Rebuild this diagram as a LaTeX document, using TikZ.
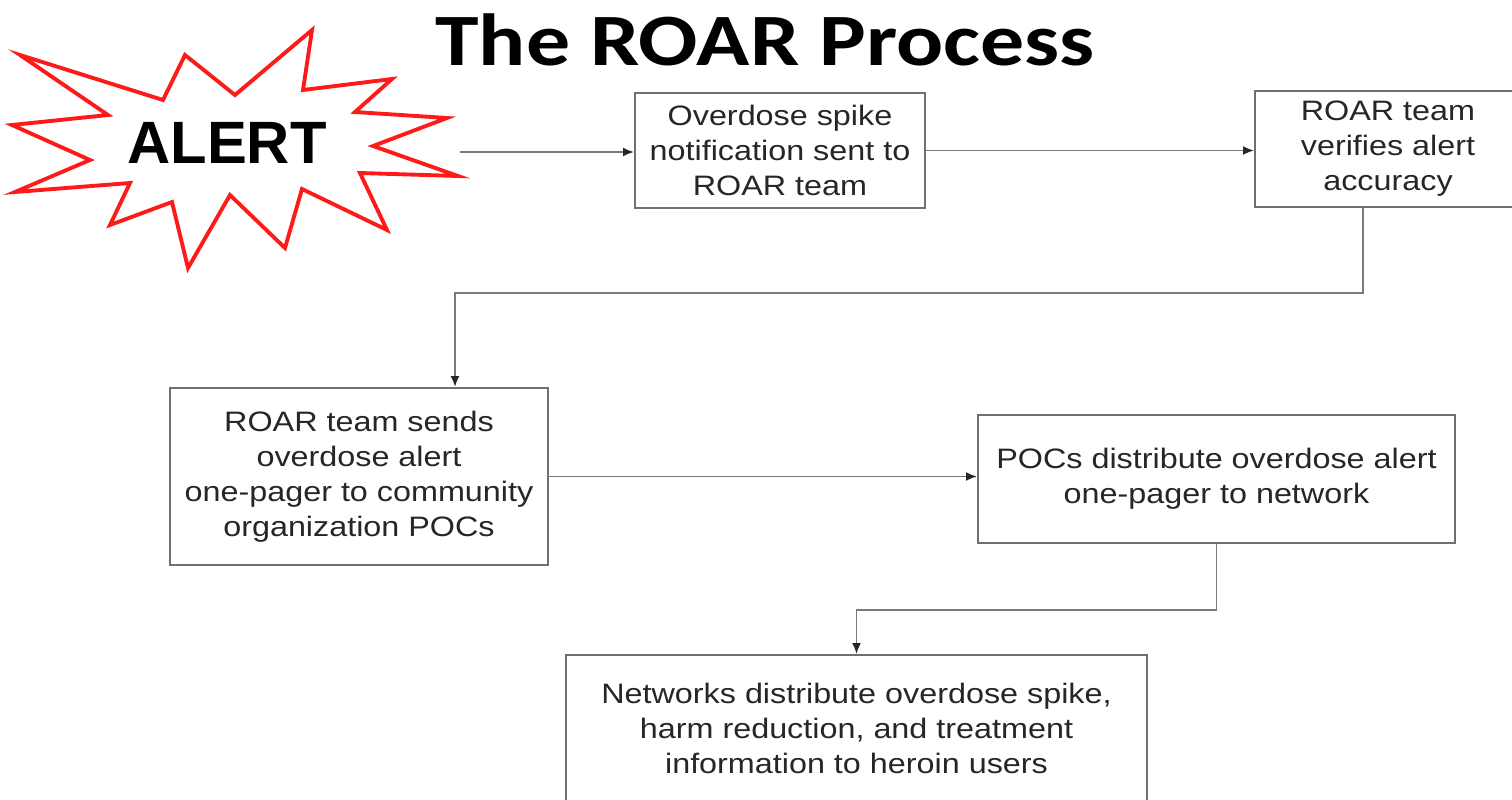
\documentclass[tikz,border=0pt]{standalone}
\usepackage{fontspec}
\setmainfont{Liberation Sans}
\newfontfamily\boxfont{Liberation Sans}[FakeStretch=1.15]
\newfontfamily\titlefont{Carlito}[FakeStretch=1.19]
\usepackage{xcolor}
\usetikzlibrary{positioning,calc,arrows.meta}
\definecolor{boxgray}{HTML}{707070}
\definecolor{linegray}{HTML}{7A7A7A}
\definecolor{burstred}{HTML}{FF1A1A}

\begin{document}
\begin{tikzpicture}[
  x=0.2mm, y=-0.2mm,
  box/.style={draw=boxgray, line width=1.1pt, align=center, inner sep=2pt, font=\boxfont\fontsize{16}{19.9}\selectfont, text=black!85},
  flow/.style={-{Latex[length=2.2mm,width=1.8mm,color=black!85]}, draw=linegray, line width=1.1pt}
]
\clip (0,0) rectangle (1512,799);

% title and alert burst
\node[anchor=base, font=\titlefont\bfseries\fontsize{42}{46}\selectfont] (title) at (765,65) {The ROAR Process};
\draw[burstred, line width=2.2pt] (20,55) -- (163,100) -- (185,55) -- (235,95) -- (312,30) -- (303,90)
  -- (392,79) -- (355,112) -- (447,118) -- (373,146) -- (458,176) -- (360,173) -- (387,230)
  -- (302,189) -- (285,248) -- (230,195) -- (188,268) -- (172,202) -- (110,225) -- (130,183)
  -- (15,192) -- (90,160) -- (12,125) -- (108,115) -- cycle;
\node[anchor=base, font=\bfseries\fontsize{34}{40}\selectfont] (alert) at (227,163) {ALERT};
\coordinate (burst) at (460,152);

% process boxes
\node[box, minimum width=58mm, minimum height=23mm] (notify) at (780,150.5) {Overdose spike\\notification sent to\\ROAR team};
\node[box, minimum width=53.2mm, minimum height=23.2mm] (verify) at (1388,149) {ROAR team\\verifies alert\\accuracy};
\node[box, minimum width=75.6mm, minimum height=35.4mm] (sends) at (359,476.5) {ROAR team sends\\overdose alert\\one-pager to community\\organization POCs};
\node[box, minimum width=95.4mm, minimum height=25.6mm] (pocs) at (1216.5,479) {POCs distribute overdose alert\\one-pager to network};
\node[box, minimum width=116.2mm, minimum height=29.2mm] (networks) at (856.5,728) {Networks distribute overdose spike,\\harm reduction, and treatment\\information to heroin users};

\coordinate (turn1) at (0,293);
\coordinate (turn2) at (0,610);

\draw[flow] (burst) -- (burst -| notify.west);
\draw[flow] (notify.east) -- (notify.east -| verify.west);
\draw[flow] ([xshift=-5mm]verify.south) |- ([xshift=19.2mm]sends.north |- turn1) -- ([xshift=19.2mm]sends.north);
\draw[flow] (sends.east) -- (sends.east -| pocs.west);
\draw[flow] (pocs.south) |- (networks.north |- turn2) -- (networks.north);
\end{tikzpicture}
\end{document}
